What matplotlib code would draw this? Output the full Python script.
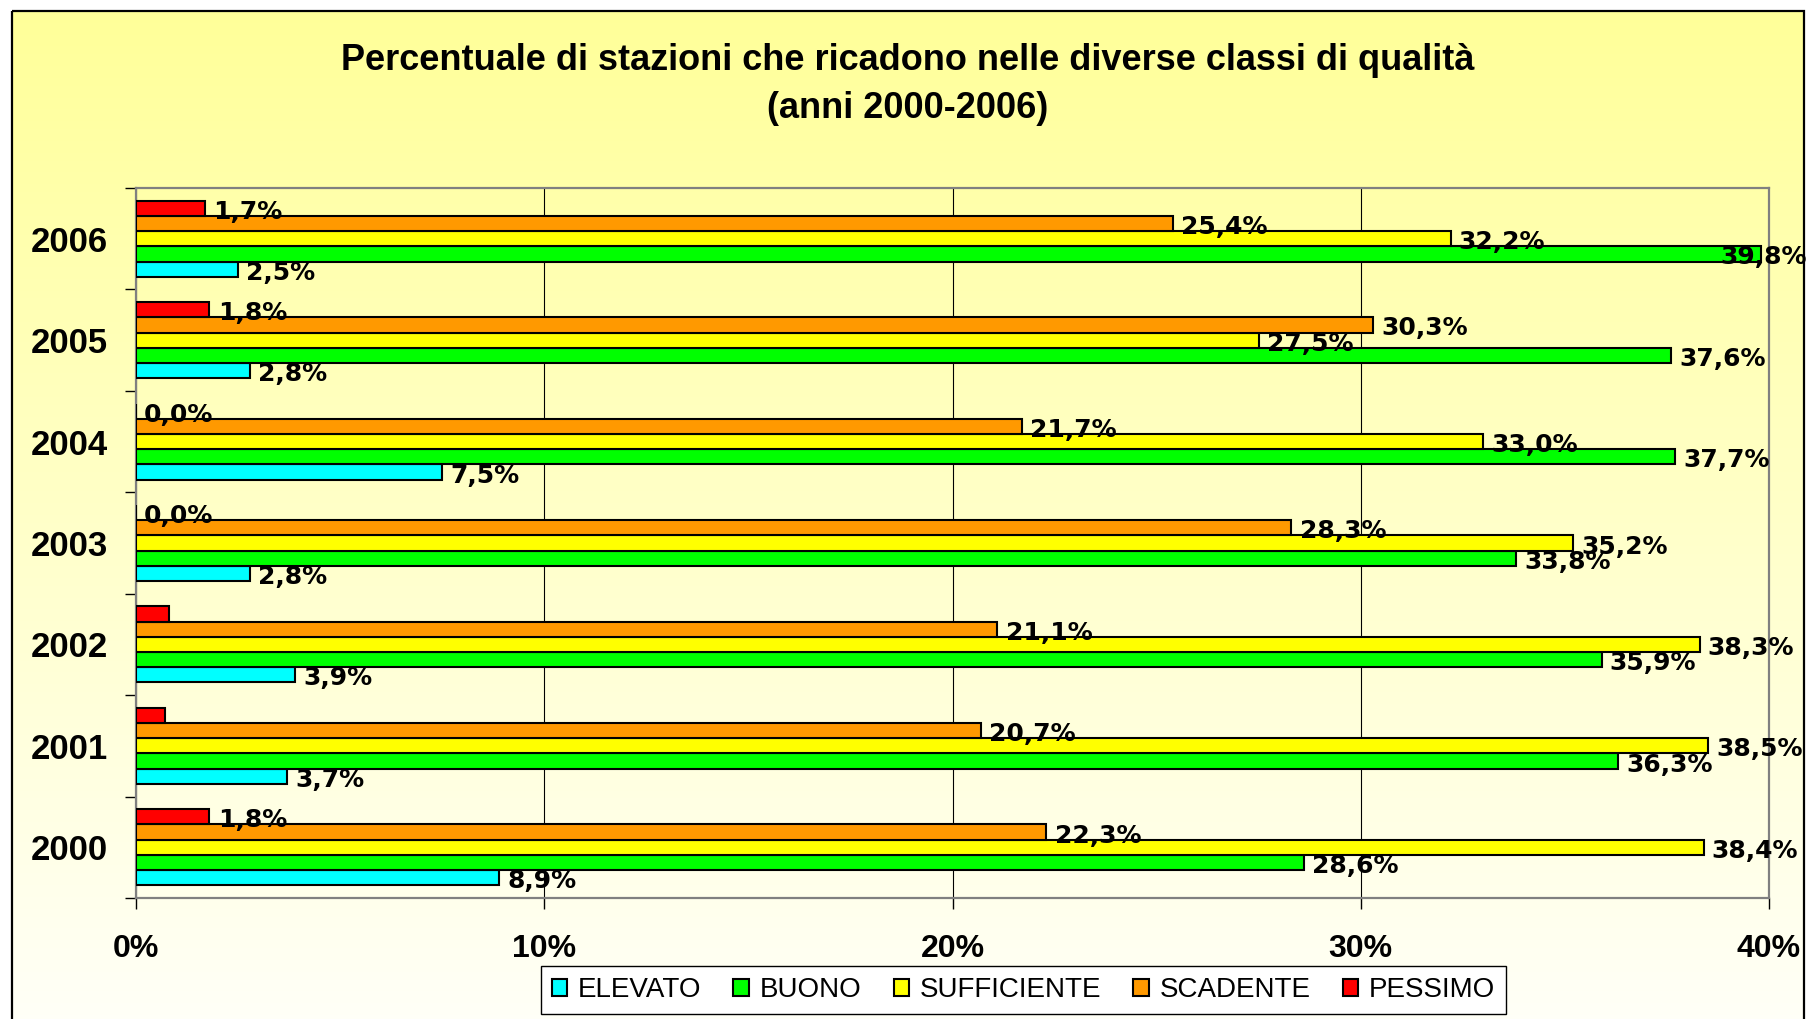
"""
Plot the percentage of stations in each quality class (2000-2006).

Horizontal grouped bars, one group per year, one bar per class.
"""

import matplotlib.pyplot as plt
import numpy as np
from matplotlib.patches import Patch, Rectangle

# data (years from bottom to top of the chart)
years = ["2000", "2001", "2002", "2003", "2004", "2005", "2006"]
classes = ["ELEVATO", "BUONO", "SUFFICIENTE", "SCADENTE", "PESSIMO"]
elevato = [8.9, 3.7, 3.9, 2.8, 7.5, 2.8, 2.5]
buono = [28.6, 36.3, 35.9, 33.8, 37.7, 37.6, 39.8]
sufficiente = [38.4, 38.5, 38.3, 35.2, 33.0, 27.5, 32.2]
scadente = [22.3, 20.7, 21.1, 28.3, 21.7, 30.3, 25.4]
pessimo = [1.8, 0.7, 0.8, 0.0, 0.0, 1.8, 1.7]
# the two small PESSIMO bars of 2001 and 2002 carry no label
pessimo_labelled = [True, False, False, True, True, True, True]
x_ticks = [0, 10, 20, 30, 40]
x_tick_labels = ["0%", "10%", "20%", "30%", "40%"]

colors = ["#00FFFF", "#00FF00", "#FFFF00", "#FF9900", "#FF0000"]
W, H = 1807, 1019


def fmt(v: float) -> str:
    """Format a percentage the Italian way."""
    return f"{v:.1f}%".replace(".", ",")


def draw_background(fig) -> None:
    """Draw the yellow gradient chart area with its frame."""
    bg = fig.add_axes([0, 0, 1, 1], zorder=-1)
    bg.set_xlim(0, W)
    bg.set_ylim(H, 0)
    bg.axis("off")
    top = np.array([1.0, 1.0, 0.60])
    bottom = np.array([1.0, 1.0, 0.97])
    t = np.linspace(0, 1, 256)[:, None, None]
    grad = top * (1 - t) + bottom * t
    bg.imshow(grad, extent=(12, 1804, H, 11), aspect="auto")
    bg.add_patch(Rectangle((12, 11), 1792, H, fill=False, edgecolor="black", linewidth=1.6))


def main() -> None:
    """Make the chart."""
    fig = plt.figure(figsize=(W / 100, H / 100), dpi=100)
    fig.patch.set_facecolor("white")
    draw_background(fig)

    ax = fig.add_axes([136 / W, 1 - 898 / H, (1769 - 136) / W, (898 - 188) / H])
    ax.set_facecolor("none")

    series = [elevato, buono, sufficiente, scadente, pessimo]
    shown = [[True] * len(years)] * 4 + [pessimo_labelled]
    y = np.arange(len(years))
    h = 0.15
    xmax = 40
    for i, (vals, lab_ok) in enumerate(zip(series, shown)):
        pos = y + (i - 2) * h
        ax.barh(pos, vals, height=h, color=colors[i], edgecolor="black",
                linewidth=1.5, zorder=3 + 2 * i, label=classes[i])
        for p, v, ok in zip(pos, vals, lab_ok):
            if not ok:
                continue
            x_lab = min(v + 0.2, xmax - 1.2)
            ax.text(x_lab, p - 0.01, fmt(v), ha="left", va="center_baseline",
                    fontsize=18, fontweight="bold", family="DejaVu Sans",
                    zorder=4 + 2 * i)

    ax.set_xlim(0, xmax)
    ax.set_ylim(-0.5, len(years) - 0.5)
    ax.set_xticks(x_ticks)
    ax.set_xticklabels(x_tick_labels, fontsize=23, fontweight="bold",
                       family="Liberation Sans")
    ax.tick_params(axis="x", length=8, width=1, color="black", pad=18)

    ax.set_yticks(np.arange(len(years) + 1) - 0.5)
    ax.set_yticklabels([])
    ax.tick_params(axis="y", which="major", length=8, width=1, color="black")
    ax.set_yticks(y, minor=True)
    ax.set_yticklabels(years, minor=True, fontsize=25, fontweight="bold",
                       family="Liberation Sans")
    ax.tick_params(axis="y", which="minor", length=0, pad=20)

    ax.grid(axis="x", color="black", linewidth=0.8, zorder=1)
    ax.set_axisbelow(True)
    for s in ax.spines.values():
        s.set_color("#808080")
        s.set_linewidth(1.6)

    fig.text(908 / W, 1 - 61 / H,
             "Percentuale di stazioni che ricadono nelle diverse classi di qualità",
             ha="center", va="center", fontsize=26, fontweight="bold",
             family="Liberation Sans")
    fig.text(908 / W, 1 - 109 / H, "(anni 2000-2006)", ha="center", va="center",
             fontsize=26, fontweight="bold", family="Liberation Sans")

    handles = [Patch(facecolor=c, edgecolor="black", linewidth=1.5) for c in colors]
    leg = fig.legend(handles, classes, loc="upper center", ncol=5,
                     bbox_to_anchor=(1023.5 / W, 1 - 966 / H),
                     prop={"family": "Liberation Sans", "size": 20},
                     frameon=True, fancybox=False, edgecolor="black",
                     facecolor="white", framealpha=1,
                     handlelength=0.55, handleheight=0.55, handletextpad=0.4,
                     columnspacing=1.15, borderpad=0.4, borderaxespad=0)
    leg.get_frame().set_linewidth(1.0)

    fig.savefig("out.png", dpi=100)


if __name__ == "__main__":
    main()
